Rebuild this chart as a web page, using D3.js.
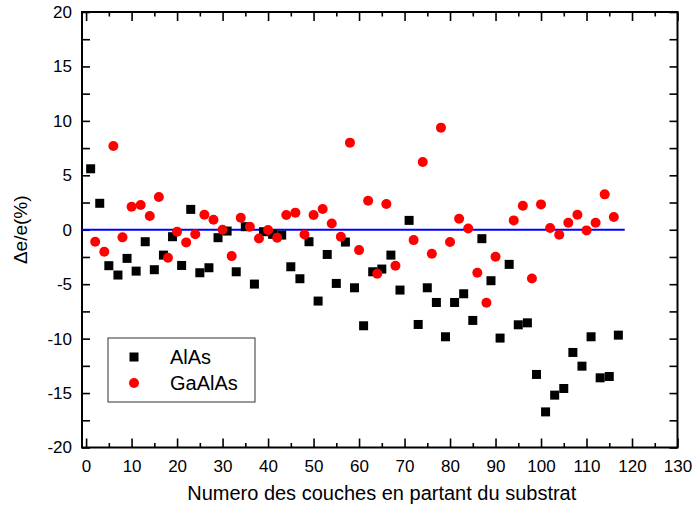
<!DOCTYPE html>
<html>
<head>
<meta charset="utf-8">
<script src="https://cdn.jsdelivr.net/npm/d3@7"></script>
<style>
  body { margin: 0; background: #fff; }
  svg { display: block; font-family: Arial, "Liberation Sans", sans-serif; }
</style>
</head>
<body>
<div id="chart"></div>
<script>
// ── Data ──
// AlAs layers (odd numbers) and their thickness deviation in %
const alasLayer = [1, 3, 5, 7, 9, 11, 13, 15, 17, 19, 21, 23, 25, 27, 29, 31, 33, 35, 37, 39,
  41, 43, 45, 47, 49, 51, 53, 55, 57, 59, 61, 63, 65, 67, 69, 71, 73, 75, 77, 79,
  81, 83, 85, 87, 89, 91, 93, 95, 97, 99, 101, 103, 105, 107, 109, 111, 113, 115, 117];
const alasDev = [5.6, 2.43, -3.3, -4.16, -2.63, -3.8, -1.1, -3.67, -2.33, -0.64, -3.28, 1.87, -3.95, -3.49, -0.73, -0.12, -3.86, 0.28, -4.99, -0.18,
  -0.42, -0.49, -3.4, -4.5, -1.1, -6.55, -2.27, -4.93, -1.13, -5.33, -8.82, -3.86, -3.61, -2.33, -5.54, 0.86, -8.7, -5.33, -6.68, -9.83,
  -6.68, -5.88, -8.33, -0.82, -4.68, -9.95, -3.18, -8.73, -8.55, -13.29, -16.73, -15.19, -14.58, -11.27, -12.53, -9.83, -13.6, -13.48, -9.68];

// GaAlAs layers (even numbers)
const gaalasLayer = [2, 4, 6, 8, 10, 12, 14, 16, 18, 20, 22, 24, 26, 28, 30, 32, 34, 36, 38, 40,
  42, 44, 46, 48, 50, 52, 54, 56, 58, 60, 62, 64, 66, 68, 72, 74, 76, 78, 80, 82,
  84, 86, 88, 90, 94, 96, 98, 100, 102, 104, 106, 108, 110, 112, 114, 116];
const gaalasDev = [-1.1, -2.02, 7.69, -0.7, 2.11, 2.27, 1.26, 3.0, -2.57, -0.18, -1.16, -0.42, 1.38, 0.92, 0.0, -2.42, 1.1, 0.28, -0.8, -0.03,
  -0.73, 1.35, 1.57, -0.43, 1.35, 1.9, 0.58, -0.64, 8.0, -1.87, 2.67, -4.04, 2.36, -3.3, -0.95, 6.22, -2.2, 9.38, -1.13, 1.01,
  0.12, -3.95, -6.7, -2.48, 0.86, 2.2, -4.47, 2.33, 0.16, -0.46, 0.64, 1.38, -0.06, 0.64, 3.25, 1.17];

// zero reference line (layer range)
const zeroLine = [-0.9, 118.4];

// axes
const xDomain = [-0.9, 130];
const yDomain = [-20, 20];
const xTicks = d3.range(0, 131, 10);
const xMinor = d3.range(5, 130, 10);
const yTicks = d3.range(-20, 21, 5);
const yMinor = d3.range(-17.5, 20, 5);

const seriesNames = ['AlAs', 'GaAlAs'];
const xTitle = 'Numero des couches en partant du substrat';
const yTitle = 'Δe/e(%)';

// ── Chart ──
const W = 693, H = 506;
const margin = { top: 12, right: 15.5, bottom: 58.5, left: 82 };
const width  = W - margin.left - margin.right;
const height = H - margin.top - margin.bottom;

const svg = d3.select('#chart')
  .append('svg')
  .attr('width', W)
  .attr('height', H)
  .append('g')
  .attr('transform', `translate(${margin.left},${margin.top})`);

const x = d3.scaleLinear().domain(xDomain).range([0, width]);
const y = d3.scaleLinear().domain(yDomain).range([height, 0]);

// plain hyphen for negatives, like the original
const fmt = d => String(d);

function styleAxis(g) {
  g.select('.domain').remove();
  g.selectAll('line').attr('stroke', '#000').attr('stroke-width', 1.6);
  g.selectAll('text').attr('fill', '#000');
}

// Bottom axis
svg.append('g')
  .attr('transform', `translate(0,${height})`)
  .call(d3.axisBottom(x).tickValues(xTicks).tickFormat(fmt).tickSizeInner(-9).tickSizeOuter(0).tickPadding(12))
  .call(styleAxis)
  .selectAll('text').style('font-size', '17px');
svg.append('g')
  .attr('transform', `translate(0,${height})`)
  .call(d3.axisBottom(x).tickValues(xMinor).tickSize(-4.5).tickFormat(''))
  .call(styleAxis);

// Top axis
svg.append('g')
  .call(d3.axisTop(x).tickValues(xTicks).tickSize(-9).tickFormat(''))
  .call(styleAxis);
svg.append('g')
  .call(d3.axisTop(x).tickValues(xMinor).tickSize(-4.5).tickFormat(''))
  .call(styleAxis);

// Left axis
svg.append('g')
  .call(d3.axisLeft(y).tickValues(yTicks).tickFormat(fmt).tickSizeInner(-8).tickSizeOuter(0).tickPadding(10))
  .call(styleAxis)
  .selectAll('text').style('font-size', '17px');
svg.append('g')
  .call(d3.axisLeft(y).tickValues(yMinor).tickSize(-8).tickFormat(''))
  .call(styleAxis);

// Right axis
svg.append('g')
  .attr('transform', `translate(${width},0)`)
  .call(d3.axisRight(y).tickValues(yTicks.concat(yMinor)).tickSize(-8).tickFormat(''))
  .call(styleAxis);

// Frame
svg.append('rect')
  .attr('width', width)
  .attr('height', height)
  .attr('fill', 'none')
  .attr('stroke', '#000')
  .attr('stroke-width', 2);

// Zero line
svg.append('path')
  .datum(zeroLine)
  .attr('fill', 'none')
  .attr('stroke', '#0000ff')
  .attr('stroke-width', 2)
  .attr('d', d3.line().x(d => x(d)).y(() => y(0)));

// AlAs squares
const sq = 9;
svg.selectAll('.alas')
  .data(alasLayer.map((l, i) => ({ layer: l, dev: alasDev[i] })))
  .enter()
  .append('rect')
  .attr('class', 'alas')
  .attr('x', d => x(d.layer) - sq / 2)
  .attr('y', d => y(d.dev) - sq / 2)
  .attr('width', sq)
  .attr('height', sq)
  .attr('fill', '#000');

// GaAlAs circles
svg.selectAll('.gaalas')
  .data(gaalasLayer.map((l, i) => ({ layer: l, dev: gaalasDev[i] })))
  .enter()
  .append('circle')
  .attr('class', 'gaalas')
  .attr('cx', d => x(d.layer))
  .attr('cy', d => y(d.dev))
  .attr('r', 5)
  .attr('fill', '#ff0000');

// Legend
const legend = svg.append('g').attr('transform', 'translate(26,326)');
legend.append('rect')
  .attr('width', 147)
  .attr('height', 64)
  .attr('fill', '#fff')
  .attr('stroke', '#333')
  .attr('stroke-width', 1);
legend.append('rect')
  .attr('x', 26 - sq / 2).attr('y', 19 - sq / 2)
  .attr('width', sq).attr('height', sq)
  .attr('fill', '#000');
legend.append('circle')
  .attr('cx', 26).attr('cy', 45)
  .attr('r', 5)
  .attr('fill', '#ff0000');
seriesNames.forEach((name, i) => {
  legend.append('text')
    .attr('x', 62)
    .attr('y', 19 + i * 26)
    .attr('dy', '0.36em')
    .style('font-size', '20px')
    .attr('fill', '#000')
    .text(name);
});

// Axis titles
svg.append('text')
  .attr('x', width / 2 + 2)
  .attr('y', height + 52)
  .attr('text-anchor', 'middle')
  .style('font-size', '20px')
  .attr('fill', '#000')
  .text(xTitle);

svg.append('text')
  .attr('transform', 'rotate(-90)')
  .attr('x', -(y(0)))
  .attr('y', -55)
  .attr('text-anchor', 'middle')
  .style('font-size', '19px')
  .attr('fill', '#000')
  .text(yTitle);
</script>
</body>
</html>
